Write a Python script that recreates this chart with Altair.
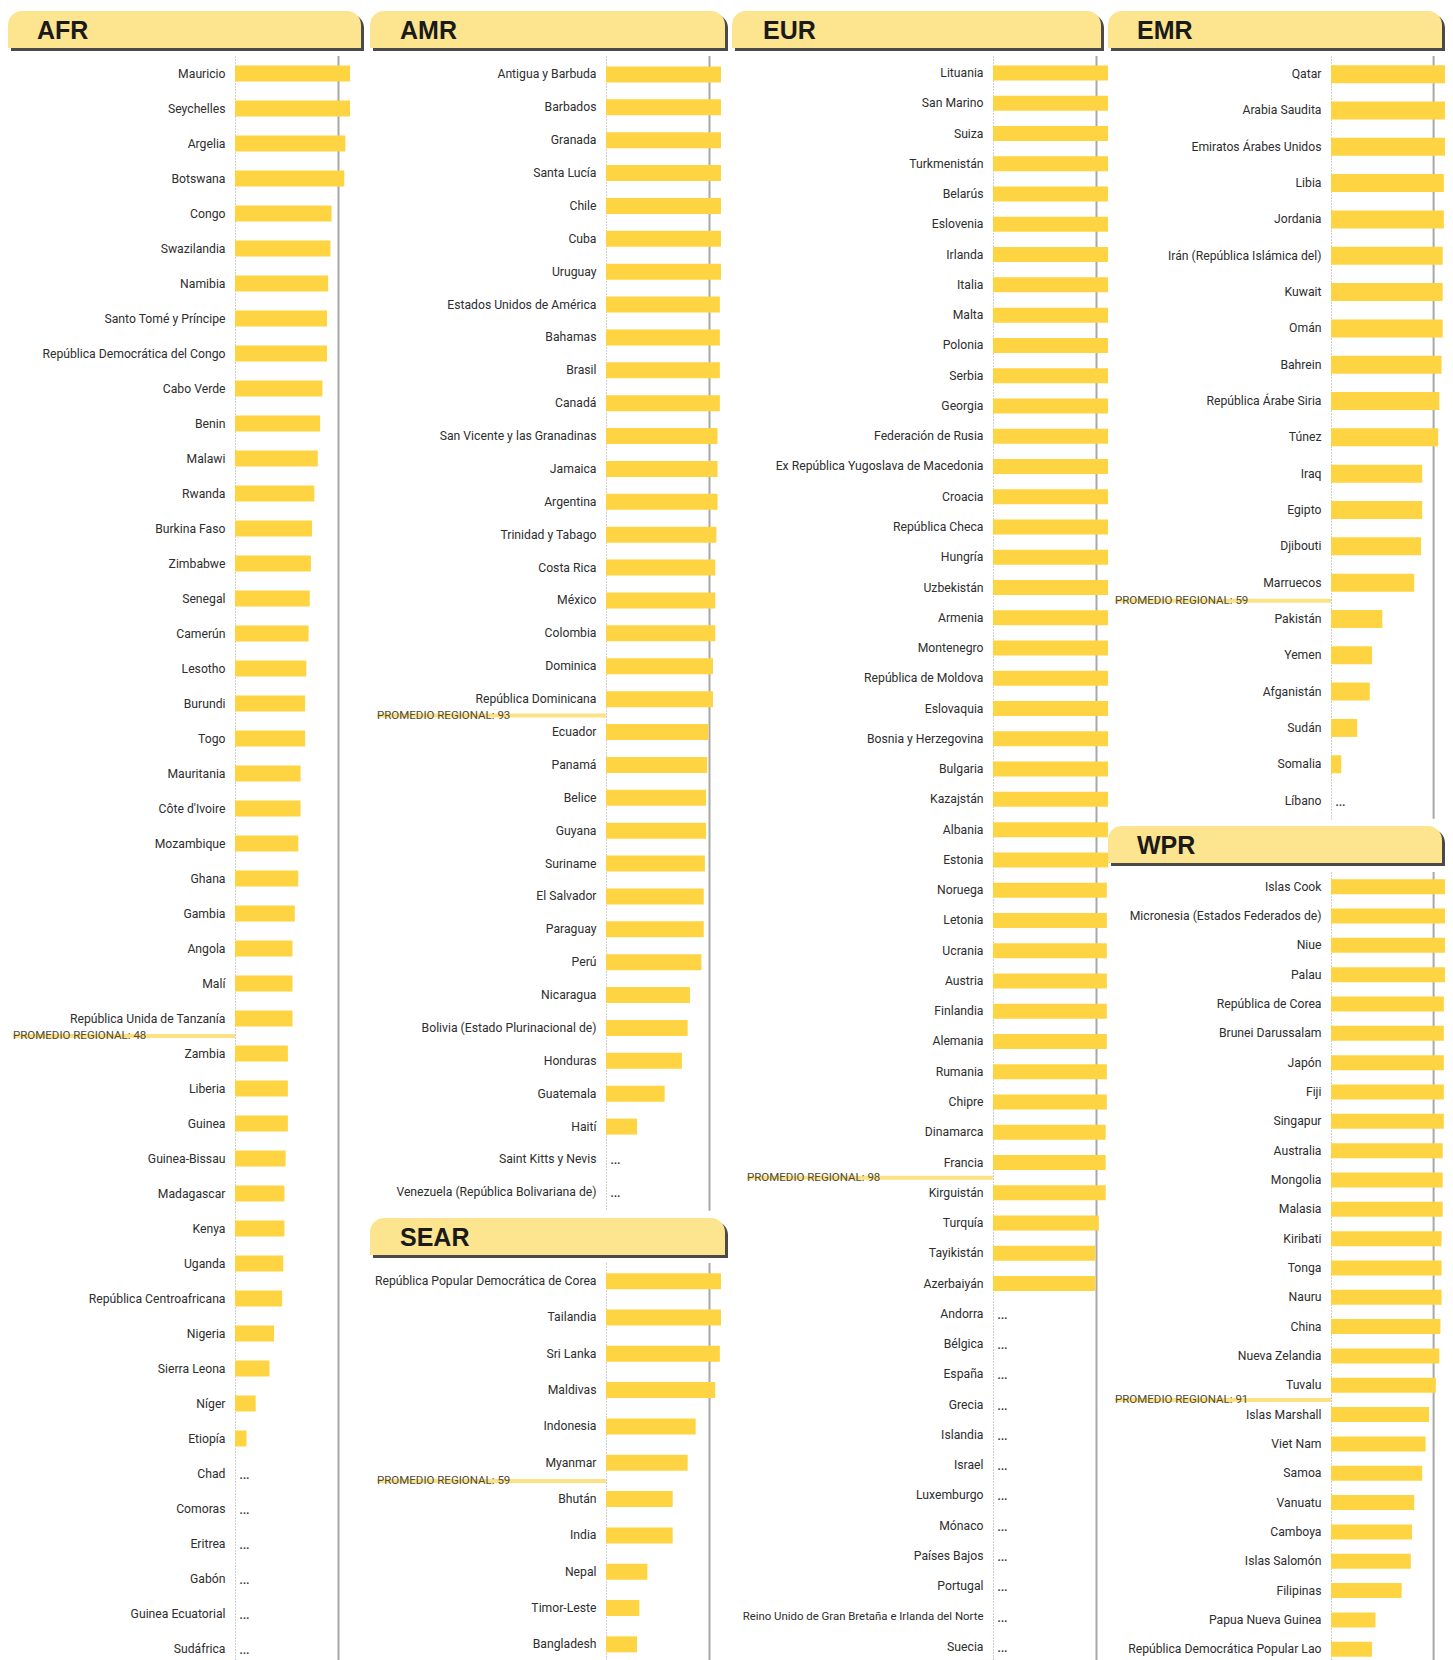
import altair as alt
import pandas as pd

# ---------------- data ----------------
AFR_COUNTRIES = ["Mauricio", "Seychelles", "Argelia", "Botswana", "Congo", "Swazilandia", "Namibia",
                 "Santo Tomé y Príncipe", "República Democrática del Congo", "Cabo Verde", "Benin", "Malawi",
                 "Rwanda", "Burkina Faso", "Zimbabwe", "Senegal", "Camerún", "Lesotho", "Burundi", "Togo",
                 "Mauritania", "Côte d'Ivoire", "Mozambique", "Ghana", "Gambia", "Angola", "Malí",
                 "República Unida de Tanzanía", "Zambia", "Liberia", "Guinea", "Guinea-Bissau", "Madagascar",
                 "Kenya", "Uganda", "República Centroafricana", "Nigeria", "Sierra Leona", "Níger", "Etiopía",
                 "Chad", "Comoras", "Eritrea", "Gabón", "Guinea Ecuatorial", "Sudáfrica"]
AFR_VALUES = [100, 100, 96, 95, 84, 83, 81, 80, 80, 76, 74, 72, 69, 67, 66, 65, 64, 62, 61, 61,
              57, 57, 55, 55, 52, 50, 50, 50, 46, 46, 46, 44, 43, 43, 42, 41, 34, 30, 18, 10,
              None, None, None, None, None, None]

AMR_COUNTRIES = ["Antigua y Barbuda", "Barbados", "Granada", "Santa Lucía", "Chile", "Cuba", "Uruguay",
                 "Estados Unidos de América", "Bahamas", "Brasil", "Canadá", "San Vicente y las Granadinas",
                 "Jamaica", "Argentina", "Trinidad y Tabago", "Costa Rica", "México", "Colombia", "Dominica",
                 "República Dominicana", "Ecuador", "Panamá", "Belice", "Guyana", "Suriname", "El Salvador",
                 "Paraguay", "Perú", "Nicaragua", "Bolivia (Estado Plurinacional de)", "Honduras", "Guatemala",
                 "Haití", "Saint Kitts y Nevis", "Venezuela (República Bolivariana de)"]
AMR_VALUES = [100, 100, 100, 100, 100, 100, 100, 99, 99, 99, 99, 97, 97, 97, 96, 95, 95, 95, 93,
              93, 89, 88, 87, 87, 86, 85, 85, 83, 73, 71, 66, 51, 27, None, None]

SEAR_COUNTRIES = ["República Popular Democrática de Corea", "Tailandia", "Sri Lanka", "Maldivas", "Indonesia",
                  "Myanmar", "Bhután", "India", "Nepal", "Timor-Leste", "Bangladesh"]
SEAR_VALUES = [100, 100, 99, 95, 78, 71, 58, 58, 36, 29, 27]

EUR_COUNTRIES = ["Lituania", "San Marino", "Suiza", "Turkmenistán", "Belarús", "Eslovenia", "Irlanda", "Italia",
                 "Malta", "Polonia", "Serbia", "Georgia", "Federación de Rusia",
                 "Ex República Yugoslava de Macedonia", "Croacia", "República Checa", "Hungría", "Uzbekistán",
                 "Armenia", "Montenegro", "República de Moldova", "Eslovaquia", "Bosnia y Herzegovina",
                 "Bulgaria", "Kazajstán", "Albania", "Estonia", "Noruega", "Letonia", "Ucrania", "Austria",
                 "Finlandia", "Alemania", "Rumania", "Chipre", "Dinamarca", "Francia", "Kirguistán", "Turquía",
                 "Tayikistán", "Azerbaiyán", "Andorra", "Bélgica", "España", "Grecia", "Islandia", "Israel",
                 "Luxemburgo", "Mónaco", "Países Bajos", "Portugal",
                 "Reino Unido de Gran Bretaña e Irlanda del Norte", "Suecia"]
EUR_VALUES = [100, 100, 100, 100, 100, 100, 100, 100, 100, 100, 100, 100, 100, 100, 100, 100, 100, 100,
              100, 100, 100, 100, 100, 100, 100, 100, 100, 99, 99, 99, 99, 99, 99, 99, 99, 98, 98, 98, 92,
              89, 89, None, None, None, None, None, None, None, None, None, None, None, None]

EMR_COUNTRIES = ["Qatar", "Arabia Saudita", "Emiratos Árabes Unidos", "Libia", "Jordania",
                 "Irán (República Islámica del)", "Kuwait", "Omán", "Bahrein", "República Árabe Siria", "Túnez",
                 "Iraq", "Egipto", "Djibouti", "Marruecos", "Pakistán", "Yemen", "Afganistán", "Sudán",
                 "Somalia", "Líbano"]
EMR_VALUES = [100, 100, 100, 99, 99, 98, 98, 98, 97, 95, 94, 80, 80, 79, 73, 45, 36, 34, 23, 9, None]

WPR_COUNTRIES = ["Islas Cook", "Micronesia (Estados Federados de)", "Niue", "Palau", "República de Corea",
                 "Brunei Darussalam", "Japón", "Fiji", "Singapur", "Australia", "Mongolia", "Malasia", "Kiribati",
                 "Tonga", "Nauru", "China", "Nueva Zelandia", "Tuvalu", "Islas Marshall", "Viet Nam", "Samoa",
                 "Vanuatu", "Camboya", "Islas Salomón", "Filipinas", "Papua Nueva Guinea",
                 "República Democrática Popular Lao"]
WPR_VALUES = [100, 100, 100, 100, 99, 99, 99, 99, 99, 98, 98, 98, 97, 97, 97, 96, 95, 92, 86, 83, 80,
              73, 71, 70, 62, 39, 36]

REGIONAL_AVG = {"AFR": 48, "AMR": 93, "SEAR": 59, "EUR": 98, "EMR": 59, "WPR": 91}
# the regional-average line is drawn just above this country
AVG_ABOVE = {"AFR": "Zambia", "AMR": "Ecuador", "SEAR": "Bhután", "EUR": "Kirguistán",
             "EMR": "Pakistán", "WPR": "Islas Marshall"}
TARGET = 90

# ---------------- style ----------------
BAR = "#FED443"
HEADER = "#FDE48E"
SHADOW = "#4a4a4a"
REF_LINE = "#A8A8A8"
AVG_LINE = "#FDE07C"
LABEL_FONT = "Roboto, Liberation Sans, sans-serif"
TITLE_FONT = "Liberation Sans, Arial, Helvetica, sans-serif"
HDR_H = 37


def panel(name, countries, values, step, bar_size, hdr_left, hdr_right, title_x, reg_x,
          width=115, top_gap=45, pad_outer=0.0):
    df = pd.DataFrame({"country": countries, "value": values})
    H = step * (len(countries) + 2 * pad_outer)
    yscale = alt.Scale(domain=countries, paddingInner=0, paddingOuter=pad_outer)
    xscale = alt.Scale(domain=[0, 100], nice=False, zero=True)
    yaxis = alt.Axis(title=None, ticks=False, grid=False, domain=True, domainDash=[1, 2],
                     domainColor="#9a9a9a", domainWidth=1, labelFont=LABEL_FONT,
                     labelFontSize=alt.condition("length(datum.label) > 40", alt.value(11.4), alt.value(12.2)),
                     labelColor="#2e2e2e", labelPadding=10, labelLimit=400)
    y = alt.Y("country:N", scale=yscale, axis=yaxis)
    y_edge = alt.Y("country:N", scale=yscale, axis=yaxis, bandPosition=0)
    base = alt.Chart(df)

    shadow = alt.Chart(pd.DataFrame({"t": [name]})).mark_rect(
        color=SHADOW, cornerRadiusTopLeft=14, cornerRadiusTopRight=14
    ).encode(x=alt.value(hdr_left + 3), x2=alt.value(hdr_right + 3),
             y=alt.value(-top_gap + 3), y2=alt.value(-top_gap + HDR_H + 3))
    header = alt.Chart(pd.DataFrame({"t": [name]})).mark_rect(
        color=HEADER, cornerRadiusTopLeft=14, cornerRadiusTopRight=14
    ).encode(x=alt.value(hdr_left), x2=alt.value(hdr_right),
             y=alt.value(-top_gap), y2=alt.value(-top_gap + HDR_H))
    title = alt.Chart(pd.DataFrame({"t": [name]})).mark_text(
        align="left", baseline="alphabetic", font=TITLE_FONT, fontSize=25, fontWeight="bold", color="#1a1a1a"
    ).encode(text="t:N", x=alt.value(title_x), y=alt.value(-top_gap + 28))

    ref = alt.Chart(pd.DataFrame({"x": [TARGET]})).mark_rule(color=REF_LINE, strokeWidth=2).encode(
        x=alt.X("x:Q", scale=xscale, axis=None))

    bars = base.mark_bar(size=bar_size, color=BAR).encode(
        x=alt.X("value:Q", scale=xscale, axis=None), y=y)

    missing = base.transform_filter("!isValid(datum.value)").mark_text(
        text="…", align="left", baseline="middle", dx=4, fontSize=16, font=LABEL_FONT, color="#333333"
    ).encode(x=alt.datum(0, scale=xscale), y=y)

    avg_df = pd.DataFrame({"country": [AVG_ABOVE[name]],
                           "label": [f"PROMEDIO REGIONAL: {REGIONAL_AVG[name]}"]})
    avg_line = alt.Chart(avg_df).mark_rule(color=AVG_LINE, strokeWidth=4, opacity=0.95).encode(
        x=alt.value(reg_x), x2=alt.value(0), y=y_edge)
    avg_text = alt.Chart(avg_df).mark_text(
        align="left", baseline="middle", font=LABEL_FONT, fontSize=11.5, color="#4f4c3a"
    ).encode(text="label:N", x=alt.value(reg_x), y=y_edge)

    return alt.layer(shadow, header, title, ref, bars, missing, avg_line, avg_text).properties(
        width=width, height=H)


afr = panel("AFR", AFR_COUNTRIES, AFR_VALUES, 35.0, 16, -227, 126, -198, -222)
amr = panel("AMR", AMR_COUNTRIES, AMR_VALUES, 32.88, 16, -236, 119, -206, -229, pad_outer=0.06)
sear = panel("SEAR", SEAR_COUNTRIES, SEAR_VALUES, 36.32, 16, -236, 119, -206, -229, top_gap=45)
eur = panel("EUR", EUR_COUNTRIES, EUR_VALUES, 30.265, 15, -261, 108, -230, -246, pad_outer=0.062)
emr = panel("EMR", EMR_COUNTRIES, EMR_VALUES, 36.32, 18, -223, 111, -194, -216, width=114)
wpr = panel("WPR", WPR_COUNTRIES, WPR_VALUES, 29.33, 15, -223, 111, -194, -216, width=114, top_gap=46)

col2 = alt.vconcat(amr, sear, spacing=6)
col4 = alt.vconcat(emr, wpr, spacing=6)
left_pair = alt.hconcat(afr, col2, spacing=6)
inner = alt.hconcat(left_pair, eur, spacing=4)
chart = alt.hconcat(inner, col4, spacing=0).properties(
    padding={"left": 0, "top": 3, "right": 0, "bottom": 0},
    background="white",
).configure_view(stroke=None)

chart.save("out.html", embed_options={"renderer": "svg", "actions": False})
